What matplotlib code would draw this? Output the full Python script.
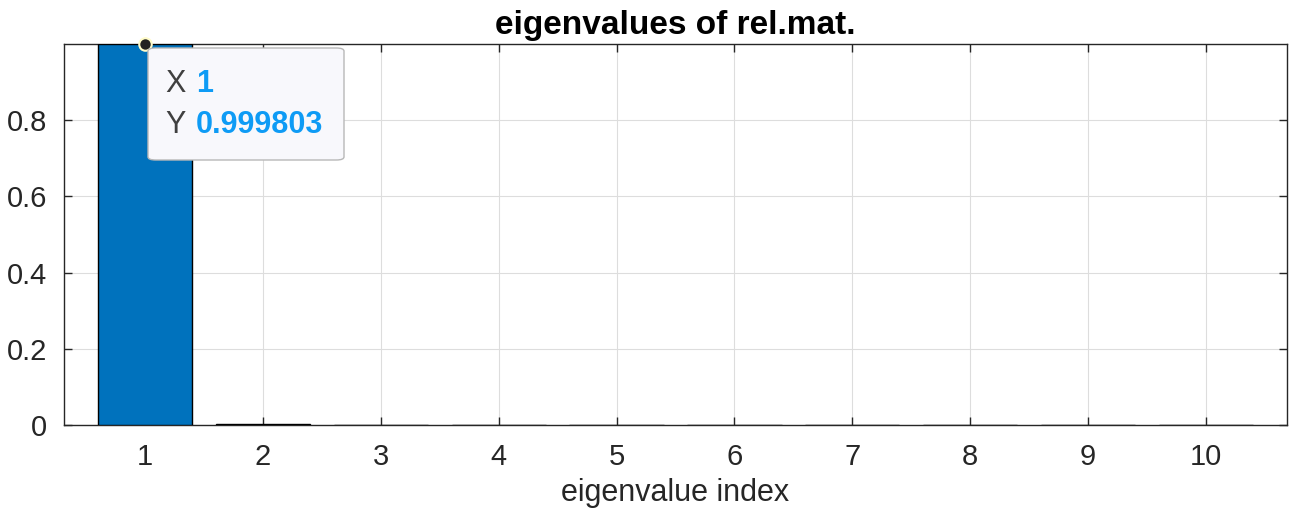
import matplotlib
matplotlib.use("Agg")
from matplotlib import pyplot as plt
from matplotlib.patches import FancyBboxPatch

plt.rcParams['font.family'] = ['Liberation Sans', 'DejaVu Sans']

idx = [1, 2, 3, 4, 5, 6, 7, 8, 9, 10]
eigvals = [0.999803, 0.003, 0.0002, 0.00005, 0.00002, 0.00001,
           0.000005, 0.000002, 0.000001, 0.0000005]
yticks = [0, 0.2, 0.4, 0.6, 0.8]
ytick_labels = ['0', '0.2', '0.4', '0.6', '0.8']

fig = plt.figure(figsize=(12.9, 5.21), dpi=100)
ax = fig.add_axes([64 / 1290, 1 - 425 / 521, (1287 - 64) / 1290, (425 - 44) / 521])

ax.bar(idx, eigvals, width=0.8, color='#0072bd', edgecolor='black', linewidth=1.0, zorder=3)

ax.set_xlim(0.31, 10.69)
ax.set_ylim(0, eigvals[0])
ax.set_xticks(idx)
ax.set_yticks(yticks)
ax.set_yticklabels(ytick_labels)
ax.grid(True, color='#dddddd', linewidth=0.8, zorder=0)
ax.set_axisbelow(True)
ax.tick_params(direction='in', top=True, right=True, length=6, width=1,
               labelsize=21, colors='#262626')
ax.tick_params(axis='x', pad=13)
ax.tick_params(axis='y', pad=12)
for s in ax.spines.values():
    s.set_color('#262626')
    s.set_linewidth(1)

ax.set_title('eigenvalues of rel.mat.', fontsize=24, fontweight='bold', pad=7)
ax.set_xlabel('eigenvalue index', fontsize=22, color='#262626', labelpad=5)

# data tip
ax.plot([idx[0]], [eigvals[0]], 'o', ms=9, mfc='#222222', mec='#fffbc8', mew=1.5,
        zorder=6, clip_on=False)
box = FancyBboxPatch((148 / 1290, 1 - 160 / 521), (344 - 148) / 1290, (160 - 48) / 521,
                     boxstyle='round,pad=0,rounding_size=0.006', transform=fig.transFigure,
                     facecolor='#f8f8fc', edgecolor='#b8b8b8', linewidth=1, zorder=5)
fig.patches.append(box)
tip = dict(fontsize=22, va='center', zorder=7)
fig.text(165 / 1290, 1 - 84 / 521, 'X', color='#404040', **tip)
fig.text(196 / 1290, 1 - 84 / 521, f'{idx[0]}', color='#0e9bf5', fontweight='bold', **tip)
fig.text(165 / 1290, 1 - 125 / 521, 'Y', color='#404040', **tip)
fig.text(196 / 1290, 1 - 125 / 521, f'{eigvals[0]:.6f}', color='#0e9bf5',
         fontweight='bold', **tip)

fig.savefig('out.png', dpi=100)
